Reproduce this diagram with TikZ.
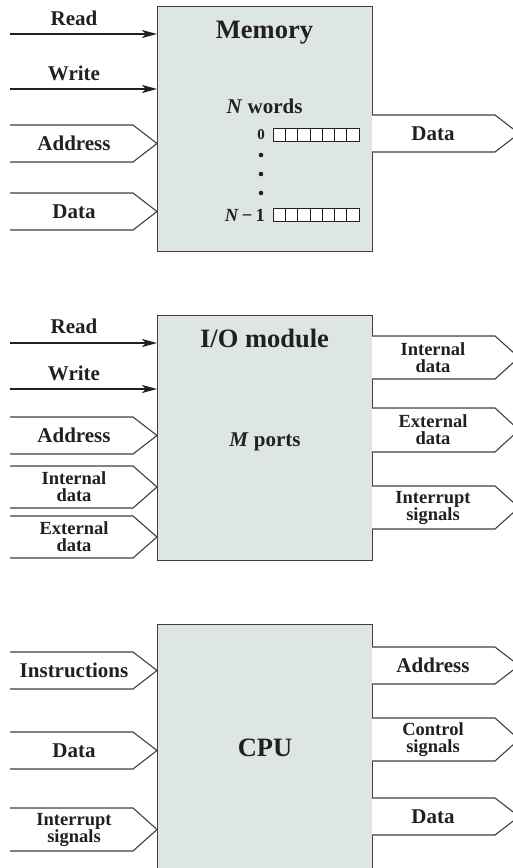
\documentclass[tikz,border=0pt]{standalone}
\usepackage{fontspec}
\setmainfont{Liberation Serif}
\usetikzlibrary{arrows.meta}
\definecolor{boxfill}{HTML}{DDE6E5}
\definecolor{edge}{HTML}{404040}
\definecolor{ink}{HTML}{231F20}
\tikzset{
  unitbox/.style={draw=edge, line width=1.2pt, fill=boxfill, minimum width=215pt,
    minimum height=245pt, inner sep=0pt, anchor=north west},
  chev/.style={draw=edge, line width=1.1pt, fill=white},
  sig/.style={line width=1.9pt, draw=ink, -{Stealth[length=15pt,width=8pt,inset=4pt]}},
  lbl/.style={font=\fontsize{21}{23}\selectfont\bfseries, text=ink, inner sep=0pt},
  lbltwo/.style={font=\fontsize{18.5}{17}\selectfont\bfseries, text=ink, inner sep=0pt, align=center},
  sigtext/.style={font=\fontsize{21}{23}\selectfont\bfseries, text=ink, inner sep=0pt, anchor=base},
  title/.style={font=\fontsize{26.5}{28}\selectfont\bfseries, text=ink, inner sep=0pt, anchor=base},
  sub/.style={font=\fontsize{21}{23}\selectfont\bfseries, text=ink, inner sep=0pt, anchor=base},
  cell/.style={draw=ink, line width=0.8pt, fill=white},
}
\newcommand\InChev[5]{%
  \pgfmathsetmacro\chevmid{(#1+#2)/2}%
  \draw[chev] (10,#1) -- (133,#1) -- (157,\chevmid) -- (133,#2) -- (10,#2);
  \node[#4] (#3) at (74,\chevmid) {#5};}
\newcommand\OutChev[5]{%
  \pgfmathsetmacro\chevmid{(#1+#2)/2}%
  \draw[chev] (372,#1) -- (495,#1) -- (519,\chevmid) -- (495,#2) -- (372,#2);
  \node[#4] (#3) at (433,\chevmid) {#5};}
\begin{document}
\begin{tikzpicture}[x=1pt,y=-1pt]
\useasboundingbox (0,0) rectangle (513,868);
\clip (0,0) rectangle (513,868);

% ---------------- Memory ----------------
\node[unitbox] (mem) at (157,6) {};
\node[title] (memt) at (264.5,38) {Memory};
\node[sub] (memw) at (264.5,113) {\textit{N} words};
\node[font=\fontsize{15}{17}\selectfont\bfseries, text=ink, inner sep=0pt, anchor=east] (w0) at (265,135) {0};
\node[font=\fontsize{18.5}{20}\selectfont\bfseries, text=ink, inner sep=0pt, anchor=east] (wn) at (265,215) {\textit{N}\,−\,1};
\foreach \i in {0,...,6} {
  \draw[cell] ({273+12.3*\i},128.5) rectangle ++(12.3,13);
  \draw[cell] ({273+12.3*\i},208) rectangle ++(12.3,13);
}
\foreach \yy in {155,174,193} \fill[ink] (261,\yy) circle (2.3);

\node[sigtext] (mrt) at (74,25) {Read};
\coordinate (mr) at (10,34);
\draw[sig] (mr) -- (mr -| mem.west);
\node[sigtext] (mwt) at (74,80) {Write};
\coordinate (mw) at (10,89);
\draw[sig] (mw) -- (mw -| mem.west);
\InChev{125}{162}{maddr}{lbl}{Address}
\InChev{193}{230}{mdin}{lbl}{Data}
\OutChev{115}{152}{mdout}{lbl}{Data}

% ---------------- I/O module ----------------
\node[unitbox] (io) at (157,315) {};
\node[title] (iot) at (264.5,347) {I/O module};
\node[sub] (iop) at (265,446) {\textit{M} ports};
\node[sigtext] (irt) at (74,333) {Read};
\coordinate (ir) at (10,343);
\draw[sig] (ir) -- (ir -| io.west);
\node[sigtext] (iwt) at (74,380) {Write};
\coordinate (iw) at (10,389);
\draw[sig] (iw) -- (iw -| io.west);
\InChev{417}{454}{iaddr}{lbl}{Address}
\InChev{466}{508}{iint}{lbltwo}{Internal\\data}
\InChev{516}{558}{iext}{lbltwo}{External\\data}
\OutChev{336}{379}{oint}{lbltwo}{Internal\\data}
\OutChev{408}{452}{oext}{lbltwo}{External\\data}
\OutChev{486}{529}{oirq}{lbltwo}{Interrupt\\signals}

% ---------------- CPU ----------------
\node[unitbox] (cpu) at (157,624) {};
\node[title] (cput) at (265,756) {CPU};
\InChev{652}{689}{cins}{lbl}{Instructions}
\InChev{732}{769}{cdin}{lbl}{Data}
\InChev{808}{851}{cirq}{lbltwo}{Interrupt\\signals}
\OutChev{647}{684}{caddr}{lbl}{Address}
\OutChev{718}{761}{cctl}{lbltwo}{Control\\signals}
\OutChev{798}{835}{cdout}{lbl}{Data}
\end{tikzpicture}
\end{document}
